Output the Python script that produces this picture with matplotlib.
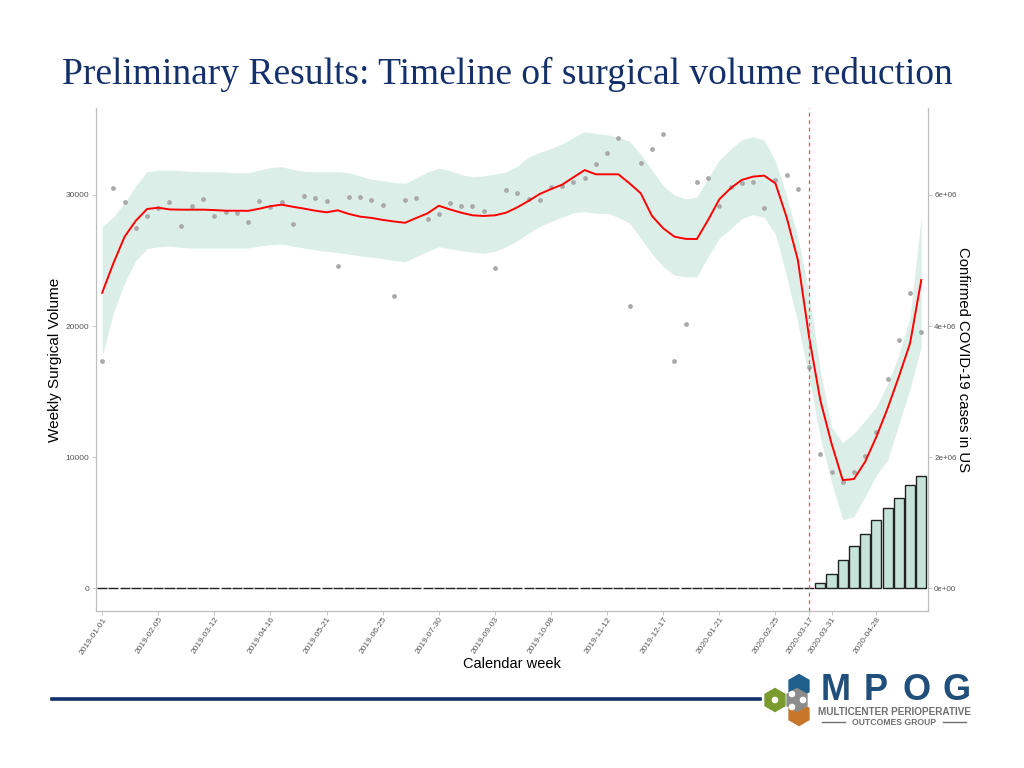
import matplotlib

matplotlib.use("Agg")
import matplotlib.pyplot as plt
from matplotlib.patches import RegularPolygon

# week index 0 = 2019-01-01
weeks = list(range(74))
volume = [17330, 30560, 29440, 27500, 28420, 29000, 29490, 27660, 29180, 29720,
          28420, 28700, 28650, 27910, 29570, 29080, 29470, 27790, 29920, 29800,
          29570, 24600, 29870, 29870, 29640, 29240, 22270, 29620, 29800, 28190,
          28580, 29360, 29180, 29140, 28800, 24430, 30380, 30130, 29670, 29620,
          30640, 30690, 30990, 31300, 32390, 33210, 34380, 21550, 32470, 33490,
          34630, 17330, 20130, 30970, 31320, 29180, 30640, 30890, 31020, 29010,
          31120, 31500, 30440, 16890, 10230, 8830, 8100, 8830, 10080, 11930,
          15950, 18930, 22550, 19520]
fit = [22540, 24790, 26820, 28040, 28930, 29030, 28900, 28880, 28880, 28880,
       28850, 28800, 28800, 28790, 28950, 29150, 29260, 29100, 28960, 28800,
       28680, 28830, 28550, 28350, 28250, 28100, 27980, 27880, 28250, 28600,
       29180, 28900, 28650, 28450, 28400, 28450, 28650, 29060, 29550, 30080,
       30450, 30790, 31350, 31900, 31580, 31580, 31580, 30890, 30130, 28400,
       27460, 26820, 26650, 26640, 28090, 29670, 30510, 31150, 31400, 31480,
       30890, 28300, 25040, 19180, 14350, 11040, 8240, 8320, 9640, 11550,
       13720, 16130, 18680, 23510]
upper = [27580, 28340, 29400, 30700, 31780, 31900, 31900, 31850, 31800, 31780,
         31780, 31750, 31700, 31700, 31900, 32100, 32160, 31950, 31800, 31780,
         31780, 31780, 31700, 31450, 31200, 31100, 30950, 30890, 31300, 31750,
         32040, 31850, 31550, 31400, 31450, 31600, 31780, 32200, 32900, 33250,
         33550, 33900, 34400, 34830, 34700, 34600, 34400, 34100, 33100, 31900,
         30700, 30000, 29700, 29850, 31300, 32670, 33500, 34200, 34450, 34200,
         32600, 29900, 26800, 22500, 16600, 12300, 11100, 11800, 12800, 13840,
         15600, 17800, 20700, 28340]
lower = [17700, 21000, 23300, 25000, 25900, 26050, 26100, 26000, 25950, 25950,
         25950, 25950, 25950, 25950, 26100, 26200, 26260, 26100, 25950, 25800,
         25700, 25600, 25500, 25350, 25250, 25150, 25000, 24910, 25300, 25700,
         26050, 25900, 25750, 25650, 25550, 25700, 26050, 26500, 27100, 27600,
         28000, 28300, 28650, 28730, 28600, 28600, 28300, 27840, 26700, 25500,
         24530, 23900, 23760, 23760, 25300, 26700, 27400, 28200, 28500, 28300,
         27000, 23800, 20200, 16100, 11500, 8100, 5200, 5450, 7000, 8600,
         9770, 12500, 15200, 18420]
# confirmed US COVID-19 cases (zero before 2020-03-17)
cases = [0] * 63 + [8000, 76000, 214000, 427000, 641000, 824000, 1040000,
                    1220000, 1370000, 1570000, 1710000]

tick_weeks = [0, 5, 10, 15, 20, 25, 30, 35, 40, 45, 50, 55, 60, 63, 65, 69]
tick_labels = ["2019-01-01", "2019-02-05", "2019-03-12", "2019-04-16", "2019-05-21",
               "2019-06-25", "2019-07-30", "2019-09-03", "2019-10-08", "2019-11-12",
               "2019-12-17", "2020-01-21", "2020-02-25", "2020-03-17", "2020-03-31",
               "2020-04-28"]
lockdown_week = 63

NAVY = "#13306B"
GRAY = "#555555"
SPINE = "#BDBDBD"
SANS = "Liberation Sans"

fig = plt.figure(figsize=(10.24, 7.68), dpi=100)
fig.text(62 / 1024, 1 - 84 / 768, "Preliminary Results: Timeline of surgical volume reduction",
         family="Liberation Serif", fontsize=27, color=NAVY, va="baseline", ha="left")

ax = fig.add_axes([96 / 1024, 1 - 611 / 768, 832 / 1024, 503 / 768])
ax2 = ax.twinx()
ax.set_zorder(ax2.get_zorder() + 1)
ax.patch.set_visible(False)

ax.fill_between(weeks, lower, upper, color="#DCEEE8", lw=0, zorder=1)
ax.plot(weeks, fit, color="#FF0000", lw=1.4, zorder=3)
ax.scatter(weeks, volume, s=12, color="#A9A9A9", lw=0, zorder=2)
ax.axvline(lockdown_week, color="#E8506A", lw=0.9, ls=(0, (3, 3)), zorder=4)

ax2.bar(weeks, cases, width=0.9, color="#C5E3D9", edgecolor="#222222", lw=1.0)

ylim = (-1750, 36640)
ax.set_ylim(*ylim)
ax2.set_ylim(ylim[0] * 200, ylim[1] * 200)
ax.set_xlim(-0.55, 73.6)

ax.set_yticks([0, 10000, 20000, 30000])
ax.set_yticklabels(["0", "10000", "20000", "30000"])
ax2.set_yticks([0, 2e6, 4e6, 6e6])
ax2.set_yticklabels(["0e+00", "2e+06", "4e+06", "6e+06"])
ax.set_xticks(tick_weeks)
ax.set_xticklabels(tick_labels, rotation=56, ha="right", rotation_mode="anchor")
for lab in ax.get_xticklabels():
    if lab.get_text() == "2020-03-17":
        lab.set_color("#FF2020")

for a in (ax, ax2):
    a.spines["top"].set_visible(False)
    for s in ("left", "right", "bottom"):
        a.spines[s].set_color(SPINE)
        a.spines[s].set_linewidth(0.8)
ax.tick_params(axis="x", colors=GRAY, labelsize=6.0, length=3, width=0.6, color=SPINE, pad=0.5)
ax.tick_params(axis="y", colors=GRAY, labelsize=6.0, length=3, width=0.6, color=SPINE, pad=2)
ax2.tick_params(axis="y", colors=GRAY, labelsize=5.8, length=3, width=0.6, color=SPINE, pad=1.5)
for lab in ax.get_xticklabels() + ax.get_yticklabels() + ax2.get_yticklabels():
    lab.set_family(SANS)

ax.set_ylabel("Weekly Surgical Volume", family=SANS, fontsize=11)
ax.yaxis.set_label_coords(-0.041, 0.5)
ax2.set_ylabel("Confirmed COVID-19 cases in US", family=SANS, fontsize=10.7, rotation=-90,
               va="center")
ax2.yaxis.set_label_coords(1.042, 0.5)
ax.set_xlabel("Calendar week", family=SANS, fontsize=10.5)
ax.xaxis.set_label_coords(0.5, -0.092)

# footer rule
fig.add_artist(plt.Line2D([52 / 1024, 760 / 1024], [1 - 699 / 768] * 2, color=NAVY, lw=2.6))

# MPOG logo
lg = fig.add_axes([762 / 1024, 1 - 728 / 768, 56 / 1024, 56 / 768])
lg.set_xlim(0, 56)
lg.set_ylim(0, 56)
lg.set_aspect("equal")
lg.axis("off")
for (cx, cy, col) in [(13, 28, "#7A9A2E"), (37, 42, "#1F5F8B"), (37, 14, "#C7772A"), (35, 28, "#8C8C8C")]:
    lg.add_patch(RegularPolygon((cx, cy), 6, radius=11.5, orientation=0, color=col))
for (cx, cy) in [(13, 28), (30, 34), (30, 21), (41, 28)]:
    lg.add_patch(plt.Circle((cx, cy), 2.6, color="white"))

for letter, cx in zip("MPOG", [836, 876, 917, 957]):
    fig.text(cx / 1024, 1 - 700 / 768, letter, family=SANS, fontsize=26,
             fontweight="bold", color="#1F4F7A", va="baseline", ha="center")
fig.text(818 / 1024, 1 - 715 / 768, "MULTICENTER PERIOPERATIVE", family=SANS,
         fontsize=7.2, fontweight="bold", color="#707070", va="baseline", ha="left")
fig.text(894 / 1024, 1 - 725 / 768, "OUTCOMES GROUP", family=SANS,
         fontsize=6.2, fontweight="bold", color="#707070", va="baseline", ha="center")
for x0, x1 in [(822, 845), (943, 966)]:
    fig.add_artist(plt.Line2D([x0 / 1024, x1 / 1024], [1 - 721.5 / 768] * 2, color="#707070", lw=1))

fig.savefig("out.png", dpi=100)
